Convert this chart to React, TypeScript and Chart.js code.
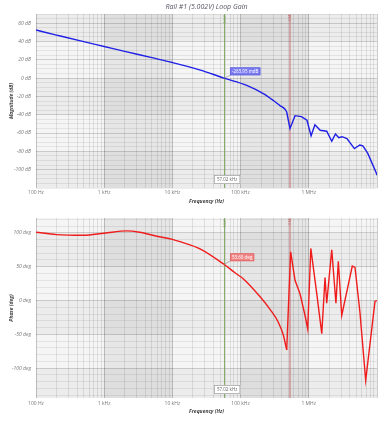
import React, { useEffect, useRef } from "react";
import { Chart, registerables } from "chart.js";
Chart.register(...registerables);

// ---------- data ----------
const MAG_FREQ = [100, 200, 500, 1000, 2000, 5000, 10000, 25000, 57000, 123000, 215000, 302000, 377000, 448000, 474000, 530000, 628000, 780000, 940000, 1080000, 1230000, 1470000, 1830000, 2170000, 2460000, 2750000, 3070000, 3630000, 4660000, 5600000, 6200000, 7300000, 9700000, 10000000];
const MAG_DB = [52.5, 47, 39.8, 34.5, 29.2, 22.3, 17, 9, 0, -8, -17, -24.5, -30, -34, -37, -55, -41, -42, -46, -63, -51, -57, -58, -69, -61, -65, -64, -66, -77, -73, -74, -82, -103, -106];

const PHASE_FREQ = [100, 200, 490, 1000, 2140, 3300, 5900, 10000, 13000, 25400, 57000, 82800, 110000, 192000, 270000, 357000, 423000, 474000, 542000, 628000, 743000, 880000, 964000, 1070000, 1310000, 1550000, 1730000, 1830000, 2170000, 2500000, 2710000, 3040000, 4340000, 4760000, 5630000, 6830000, 9350000, 10000000];
const PHASE_DEG = [101, 97.5, 96.5, 99.5, 103, 101, 95, 90.5, 87, 76.5, 53.6, 41, 32, 6, -13, -32, -51, -73, 72, 30, 10, -22, -42, 77, 10, -49, 34, -4, 75, -4, 58, -22, 51, 49, -18, -118, -1, 0];

// last frequency of the smooth (low-frequency) part of each curve
const MAG_SMOOTH_END = 474000;
const PHASE_SMOOTH_END = 474000;

const X_LABEL_VALUES = [100, 1000, 10000, 100000, 1000000];
const X_LABELS = ["100 Hz", "1 kHz", "10 kHz", "100 kHz", "1 MHz"];
const MAG_LABEL_VALUES = [60, 40, 20, 0, -20, -40, -60, -80, -100];
const PHASE_LABEL_VALUES = [100, 50, 0, -50, -100];

const CROSS_FREQ = 57020;
const CROSS_FREQ_TEXT = "57.02 kHz";
const CROSS_MAG = -0.26395;
const CROSS_MAG_TEXT = "-263.95 mdB";
const CROSS_PHASE = 53.6;
const CROSS_PHASE_TEXT = "53.60 deg";
const RED_MARK_FREQ = 530000;
const TITLE = "Rail #1 (5.002V) Loop Gain";

const FONT = "'Open Sans', 'DejaVu Sans', sans-serif";

// x grid: 1..9 per decade
const X_GRID: number[] = [];
for (let d = 2; d <= 6; d++) for (let m = 1; m <= 9; m++) X_GRID.push(m * Math.pow(10, d));
X_GRID.push(1e7);

const isDecade = (v: number) => Math.abs(Math.log10(v) - Math.round(Math.log10(v))) < 1e-9;

const bgPlugin = {
  id: "bg",
  beforeDraw(chart: any, _a: any, opts: any) {
    const { ctx, chartArea: a, scales } = chart;
    const x = scales.x, y = scales.y;
    ctx.save();
    ctx.fillStyle = "#f5f5f5";
    ctx.fillRect(a.left, a.top, a.width, a.height);
    ctx.fillStyle = "rgba(0,0,0,0.035)";
    for (const [lo, hi] of opts.rows) {
      const y1 = Math.max(a.top, y.getPixelForValue(hi));
      const y2 = Math.min(a.bottom, y.getPixelForValue(lo));
      if (y2 > y1) ctx.fillRect(a.left, y1, a.width, y2 - y1);
    }
    ctx.fillStyle = "rgba(0,0,0,0.06)";
    for (const [lo, hi] of [[1e3, 1e4], [1e5, 1e6]]) {
      const x1 = x.getPixelForValue(lo), x2 = x.getPixelForValue(hi);
      ctx.fillRect(x1, a.top, x2 - x1, a.height);
    }
    ctx.restore();
  },
  beforeDatasetsDraw(chart: any) {
    const { ctx, chartArea: a, scales } = chart;
    const x = scales.x;
    ctx.save();
    const gx = Math.round(x.getPixelForValue(CROSS_FREQ)) + 0.5;
    const rx = x.getPixelForValue(RED_MARK_FREQ);
    ctx.strokeStyle = "rgba(200,120,120,0.55)";
    ctx.lineWidth = 2;
    ctx.beginPath(); ctx.moveTo(rx, a.top); ctx.lineTo(rx, a.bottom); ctx.stroke();
    ctx.strokeStyle = "#86ad66";
    ctx.lineWidth = 1;
    ctx.beginPath(); ctx.moveTo(gx, a.top); ctx.lineTo(gx, a.bottom); ctx.stroke();
    ctx.font = `4px ${FONT}`;
    ctx.textAlign = "right";
    ctx.textBaseline = "middle";
    ctx.save();
    ctx.translate(gx, a.top + 1);
    ctx.rotate(-Math.PI / 2);
    ctx.fillStyle = "#6f9a4f";
    ctx.fillText("UGF", 0, 0);
    ctx.restore();
    ctx.save();
    ctx.translate(rx, a.top + 1);
    ctx.rotate(-Math.PI / 2);
    ctx.fillStyle = "#c07070";
    ctx.fillText("GM", 0, 0);
    ctx.restore();
    ctx.restore();
  },
  afterDatasetsDraw(chart: any, _a: any, opts: any) {
    const { ctx, chartArea: a, scales } = chart;
    const x = scales.x, y = scales.y;
    ctx.save();
    const px = x.getPixelForValue(CROSS_FREQ);
    const py = y.getPixelForValue(opts.value);
    ctx.font = `4.5px ${FONT}`;
    const tw = ctx.measureText(opts.text).width;
    const bx = px + 6, bw = tw + 4, bh = 8, by = py - 11;
    ctx.strokeStyle = "#888";
    ctx.lineWidth = 0.6;
    ctx.beginPath(); ctx.moveTo(px, py); ctx.lineTo(bx, by + bh); ctx.stroke();
    ctx.fillStyle = opts.boxColor;
    ctx.fillRect(bx, by, bw, bh);
    ctx.strokeStyle = opts.boxBorder;
    ctx.strokeRect(bx + 0.5, by + 0.5, bw - 1, bh - 1);
    ctx.fillStyle = "#fff";
    ctx.textAlign = "left";
    ctx.textBaseline = "middle";
    ctx.fillText(opts.text, bx + 2, by + bh / 2 + 0.3);
    ctx.font = `4.5px ${FONT}`;
    const fw = ctx.measureText(CROSS_FREQ_TEXT).width + 6;
    const fh = 9;
    const fx = px - 10, fy = a.bottom - fh - 4;
    ctx.fillStyle = "#fff";
    ctx.fillRect(fx, fy, fw, fh);
    ctx.strokeStyle = "#999";
    ctx.lineWidth = 0.7;
    ctx.strokeRect(fx + 0.5, fy + 0.5, fw - 1, fh - 1);
    ctx.fillStyle = "#666";
    ctx.fillText(CROSS_FREQ_TEXT, fx + 3, fy + fh / 2 + 0.3);
    if (opts.title) {
      ctx.font = `italic 7px ${FONT}`;
      ctx.fillStyle = "#556";
      ctx.textAlign = "center";
      ctx.textBaseline = "middle";
      ctx.fillText(opts.title, (a.left + a.right) / 2, 7);
    }
    ctx.restore();
  },
};

function makeConfig(kind: "mag" | "phase"): any {
  const isMag = kind === "mag";
  const xs = isMag ? MAG_FREQ : PHASE_FREQ;
  const ys = isMag ? MAG_DB : PHASE_DEG;
  const smoothEnd = xs.indexOf(isMag ? MAG_SMOOTH_END : PHASE_SMOOTH_END);
  const pts = xs.map((f, i) => ({ x: f, y: ys[i] }));
  const labelVals = isMag ? MAG_LABEL_VALUES : PHASE_LABEL_VALUES;
  const step = isMag ? 5 : 10;
  const yMin = isMag ? -120 : -144;
  const yMax = isMag ? 70 : 122;
  const unit = isMag ? " dB" : " deg";
  const yTicks: number[] = [];
  for (let v = Math.ceil(yMin / step) * step; v <= yMax; v += step) yTicks.push(v);
  const rows = isMag
    ? [[40, 80], [-40, 0], [-120, -80]]
    : [[50, 100], [-50, 0], [-150, -100]];
  const color = isMag ? "#1f1fe6" : "#f01c1c";
  const common = { borderColor: color, borderWidth: 1.4, pointRadius: 0, fill: false };
  return {
    type: "line",
    data: {
      datasets: [
        { ...common, data: pts.slice(0, smoothEnd + 1), cubicInterpolationMode: "monotone" },
        { ...common, data: pts.slice(smoothEnd), tension: 0 },
      ],
    },
    options: {
      responsive: false,
      animation: false,
      devicePixelRatio: 1,
      layout: { padding: { top: isMag ? 14 : 2, right: 8, left: 0, bottom: 0 } },
      plugins: {
        legend: { display: false },
        tooltip: { enabled: false },
        title: { display: false },
        bg: {
          rows,
          value: isMag ? CROSS_MAG : CROSS_PHASE,
          text: isMag ? CROSS_MAG_TEXT : CROSS_PHASE_TEXT,
          boxColor: isMag ? "#7d7df2" : "#f08484",
          boxBorder: isMag ? "#5a5ad0" : "#d86060",
          title: isMag ? TITLE : null,
        },
      },
      scales: {
        x: {
          type: "logarithmic",
          min: 100,
          max: 1e7,
          afterBuildTicks: (s: any) => {
            s.ticks = X_GRID.map((v) => ({ value: v }));
          },
          afterFit: (s: any) => {
            s.height = isMag ? 22 : 23;
          },
          ticks: {
            autoSkip: false,
            maxRotation: 0,
            minRotation: 0,
            padding: isMag ? 2 : 3,
            color: "#777",
            font: { size: 5, family: FONT },
            callback: (_v: any, i: number, ticks: any[]) => {
              const val = ticks[i].value;
              const k = X_LABEL_VALUES.findIndex((t) => Math.abs(t - val) < 1e-6 * t);
              return k >= 0 ? X_LABELS[k] : "";
            },
          },
          grid: {
            drawTicks: false,
            color: (c: any) => (c.tick && isDecade(c.tick.value) ? "rgba(0,0,0,0.2)" : "rgba(0,0,0,0.09)"),
            lineWidth: 1,
          },
          border: { display: false },
          title: {
            display: true,
            text: "Frequency (Hz)",
            color: "#444",
            font: { size: 5, style: "italic", weight: "bold", family: FONT },
            padding: { top: 0, bottom: isMag ? 5 : 6 },
          },
        },
        y: {
          type: "linear",
          min: yMin,
          max: yMax,
          afterBuildTicks: (s: any) => {
            s.ticks = yTicks.map((v) => ({ value: v }));
          },
          afterFit: (s: any) => {
            s.width = 36;
          },
          ticks: {
            autoSkip: false,
            padding: 5,
            color: "#777",
            font: { size: 5, family: FONT, style: "italic" },
            callback: (_v: any, i: number, ticks: any[]) => {
              const val = ticks[i].value;
              return labelVals.includes(val) ? val + unit : "";
            },
          },
          grid: {
            drawTicks: false,
            color: (c: any) =>
              c.tick && labelVals.includes(c.tick.value) ? "rgba(0,0,0,0.16)" : "rgba(0,0,0,0.07)",
            lineWidth: 1,
          },
          border: { display: false },
          title: {
            display: true,
            text: isMag ? "Magnitude (dB)" : "Phase (deg)",
            color: "#444",
            font: { size: 5, style: "italic", weight: "bold", family: FONT },
            padding: { top: 9, bottom: 0 },
          },
        },
      },
    },
    plugins: [bgPlugin],
  };
}

function BodeChart({ kind, height }: { kind: "mag" | "phase"; height: number }) {
  const ref = useRef<HTMLCanvasElement | null>(null);
  useEffect(() => {
    if (!ref.current) return;
    const chart = new Chart(ref.current, makeConfig(kind));
    return () => chart.destroy();
  }, [kind]);
  return (
    <canvas
      ref={ref}
      width={385}
      height={height}
      style={{ display: "block", width: 385, height }}
    />
  );
}

export default function App() {
  return (
    <div
      style={{
        position: "fixed",
        left: 0,
        top: 0,
        width: 385,
        height: 421,
        background: "#fff",
        overflow: "hidden",
      }}
    >
      <BodeChart kind="mag" height={210} />
      <BodeChart kind="phase" height={211} />
    </div>
  );
}
